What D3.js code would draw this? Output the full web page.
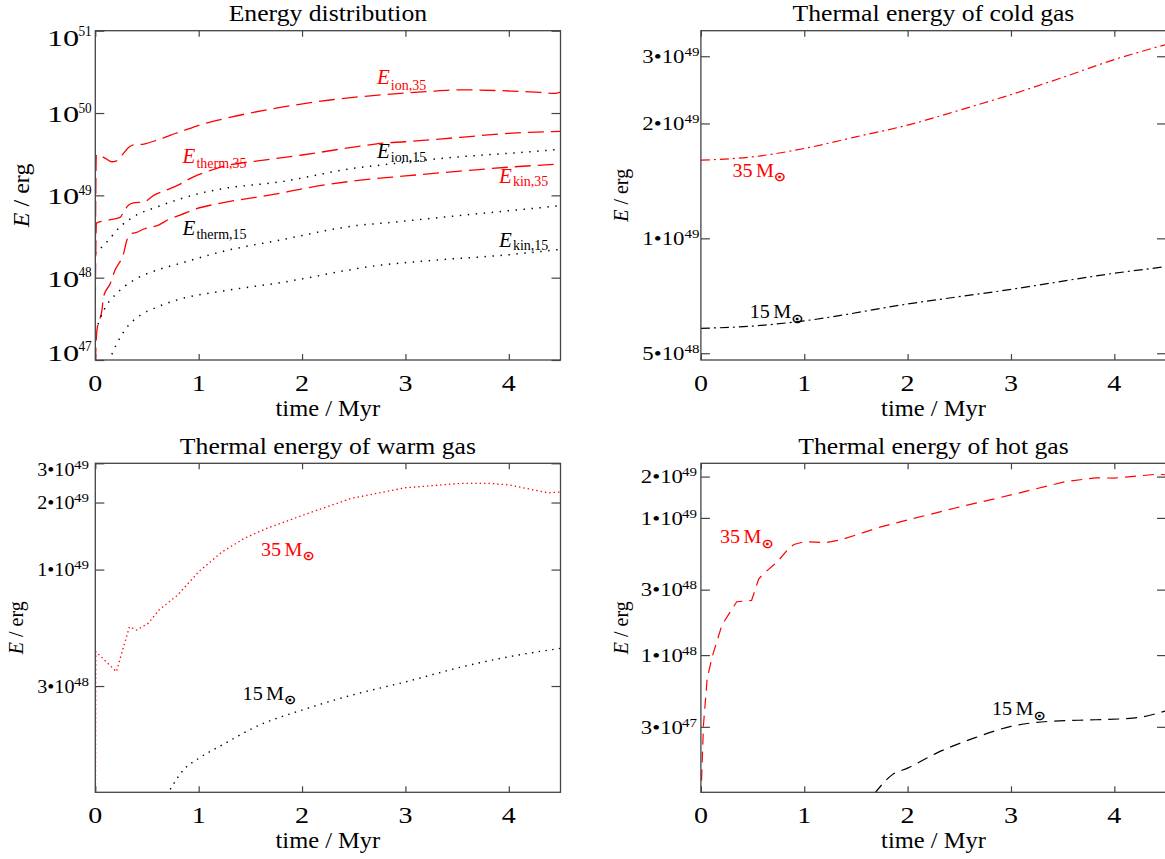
<!DOCTYPE html>
<html><head><meta charset="utf-8">
<script src="https://cdn.jsdelivr.net/npm/d3@7"></script>
<style>
html,body{margin:0;padding:0;background:#fff;}
svg{display:block;font-family:"Liberation Serif","Times New Roman",serif;}
</style></head><body>
<svg id="chart" width="1165" height="859"></svg>
<script>
// ---------------- data ----------------
const xTickValues = [0, 1, 2, 3, 4];
const titles = ["Energy distribution", "Thermal energy of cold gas", "Thermal energy of warm gas", "Thermal energy of hot gas"];
const yTicksEnergy = [1e47, 1e48, 1e49, 1e50, 1e51];
const yTicksCold = [5e48, 1e49, 2e49, 3e49];
const yTicksWarm = [3e48, 1e49, 2e49, 3e49];
const yTicksHot = [3e47, 1e48, 3e48, 1e49, 2e49];

// Panel 1: energy distribution (time in Myr, energy in erg)
const tIon35 = [0, 0.01, 0.08, 0.16, 0.2, 0.26, 0.33, 0.37, 0.47, 0.6, 0.73, 0.82, 1.0, 1.31, 1.79, 2.27, 2.66, 3.2, 3.53, 4.02, 4.3, 4.44, 4.5];
const eIon35 = [1.5e48, 3.1e49, 2.9e49, 2.56e49, 2.6e49, 3.1e49, 3.9e49, 4.1e49, 4.2e49, 4.7e49, 5.4e49, 5.9e49, 7.1e49, 8.9e49, 1.17e50, 1.44e50, 1.62e50, 1.82e50, 1.91e50, 1.85e50, 1.78e50, 1.73e50, 1.8e50];
const tTherm35 = [0, 0.01, 0.08, 0.24, 0.28, 0.32, 0.37, 0.47, 0.565, 0.69, 0.82, 0.95, 1.08, 1.21, 1.63, 2.0, 2.565, 2.76, 3.0, 3.53, 4.0, 4.5];
const eTherm35 = [5e47, 4.6e48, 4.9e48, 5.4e48, 6.5e48, 7.6e48, 8.1e48, 8.3e48, 1.0e49, 1.16e49, 1.37e49, 1.68e49, 1.94e49, 2.2e49, 2.68e49, 3.09e49, 3.97e49, 4.29e49, 4.48e49, 5.07e49, 5.66e49, 6.0e49];
const tKin35 = [0, 0.016, 0.065, 0.08, 0.145, 0.19, 0.274, 0.306, 0.355, 0.4, 0.47, 0.6, 0.73, 0.82, 0.98, 1.18, 1.79, 2.0, 2.565, 3.0, 3.53, 4.0, 4.5];
const eKin35 = [9e46, 2.3e47, 4.1e47, 5.9e47, 8.5e47, 1.23e48, 1.97e48, 2.87e48, 3.45e48, 3.55e48, 3.9e48, 4.3e48, 5.25e48, 5.76e48, 6.9e48, 7.9e48, 1.06e49, 1.2e49, 1.53e49, 1.72e49, 1.97e49, 2.2e49, 2.4e49];
const tIon15 = [0, 0.113, 0.241, 0.37, 0.6, 0.79, 1.016, 1.19, 1.79, 2.565, 2.76, 3.2, 3.53, 4.0, 4.5];
const eIon15 = [1.97e48, 2.73e48, 4.16e48, 5.5e48, 7.26e48, 8.8e48, 1.06e49, 1.18e49, 1.46e49, 2.19e49, 2.33e49, 2.69e49, 2.94e49, 3.24e49, 3.62e49];
const tTherm15 = [0, 0.081, 0.21, 0.37, 0.6, 0.82, 1.21, 1.79, 2.565, 2.76, 3.53, 4.0, 4.5];
const eTherm15 = [2.2e47, 4.0e47, 6.5e47, 9.3e47, 1.24e48, 1.49e48, 2.05e48, 2.87e48, 4.35e48, 4.57e48, 5.7e48, 6.5e48, 7.48e48];
const tKin15 = [0.13, 0.21, 0.306, 0.436, 0.6, 0.82, 1.21, 1.79, 2.76, 3.2, 4.0, 4.5];
const eKin15 = [9.5e46, 1.6e47, 2.5e47, 3.5e47, 4.4e47, 5.5e47, 6.8e47, 8.7e47, 1.42e48, 1.6e48, 1.9e48, 2.21e48];

// Panel 2: cold gas
const tCold35 = [0, 0.5, 1, 1.5, 2, 2.5, 3, 3.5, 4, 4.5];
const eCold35 = [1.603e49, 1.635e49, 1.72e49, 1.845e49, 1.98e49, 2.166e49, 2.38e49, 2.64e49, 2.94e49, 3.22e49];
const tCold15 = [0, 0.5, 1, 2, 3, 4, 4.5];
const eCold15 = [5.81e48, 5.89e48, 6.08e48, 6.73e48, 7.35e48, 8.10e48, 8.43e48];

// Panel 3: warm gas
const tWarm35 = [0, 0.005, 0.204, 0.33, 0.4, 0.51, 0.616, 0.796, 1.0, 1.226, 1.44, 1.656, 2.0, 2.48, 3.0, 3.55, 3.8, 4.0, 4.38, 4.5];
const eWarm35 = [5e47, 4.28e48, 3.48e48, 5.54e48, 5.35e48, 5.73e48, 6.58e48, 7.68e48, 9.78e48, 1.2e49, 1.38e49, 1.53e49, 1.75e49, 2.09e49, 2.33e49, 2.44e49, 2.44e49, 2.40e49, 2.21e49, 2.23e49];
const tWarm15 = [0.69, 0.867, 1.0, 1.226, 1.584, 2.0, 2.48, 3.0, 3.55, 4.0, 4.5];
const eWarm15 = [9.7e47, 1.28e48, 1.42e48, 1.63e48, 2.0e48, 2.34e48, 2.73e48, 3.13e48, 3.66e48, 4.06e48, 4.43e48];

// Panel 4: hot gas
const tHot35 = [0, 0.025, 0.061, 0.114, 0.204, 0.347, 0.49, 0.56, 0.62, 0.741, 0.85, 0.9, 1.0, 1.2, 1.35, 1.74, 2.0, 2.46, 3.0, 3.53, 3.82, 4.0, 4.41, 4.5];
const eHot35 = [9e46, 3.1e47, 6.8e47, 1.0e48, 1.66e48, 2.45e48, 2.5e48, 3.6e48, 4.0e48, 4.8e48, 6.0e48, 6.4e48, 6.71e48, 6.6e48, 6.9e48, 8.6e48, 9.66e48, 1.18e49, 1.47e49, 1.84e49, 1.96e49, 1.95e49, 2.08e49, 2.06e49];
const tHot15 = [1.68, 1.85, 2.0, 2.28, 2.64, 3.0, 3.35, 3.82, 4.18, 4.5];
const eHot15 = [9.8e46, 1.34e47, 1.5e47, 1.93e47, 2.48e47, 3.02e47, 3.28e47, 3.38e47, 3.47e47, 3.93e47];

// ---------------- layout / styles ----------------
const RED = "#ff0000", BLK = "#000000", FRAME = "#444";
const colL = [95.3, 560.5], colR = [700.9, 1166];
const rowT = [30.7, 360], rowB = [463.3, 792.3];
const smooth = d3.curveMonotoneX, sharp = d3.curveLinear;

const panels = [
  { id: "p1", xr: colL, yr: rowT, dom: [1e47, 1e51], ticks: yTicksEnergy, title: titles[0], style: "pow",
    ylab: { x: 28.5, size: 24 }, labEnd: 91.7, supW: 12.4,
    series: [
      { t: tIon35, v: eIon35, c: RED, dash: "16,7", w: 1.3, curve: smooth },
      { t: tTherm35, v: eTherm35, c: RED, dash: "16,7", w: 1.3, curve: smooth },
      { t: tKin35, v: eKin35, c: RED, dash: "16,7", w: 1.3, curve: smooth },
      { t: tIon15, v: eIon15, c: BLK, dash: "1.4,6.6", w: 1.5, curve: smooth },
      { t: tTherm15, v: eTherm15, c: BLK, dash: "1.4,6.6", w: 1.5, curve: smooth },
      { t: tKin15, v: eKin15, c: BLK, dash: "1.4,6.6", w: 1.5, curve: smooth }
    ],
    elabels: [
      { t: 2.725, v: 2.25e50, sub: "ion,35", c: RED, dy: 6 },
      { t: 2.725, v: 2.87e49, sub: "ion,15", c: BLK, dy: 4 },
      { t: 3.906, v: 1.40e49, sub: "kin,35", c: RED, dy: 3 },
      { t: 3.906, v: 2.38e48, sub: "kin,15", c: BLK, dy: 3.5 },
      { t: 0.844, v: 2.45e49, sub: "therm,35", c: RED, dy: 5 },
      { t: 0.844, v: 3.3e48, sub: "therm,15", c: BLK, dy: 4.5 }
    ], mlabels: [] },
  { id: "p2", xr: colR, yr: rowT, dom: [4.8e48, 3.5e49], ticks: yTicksCold, title: titles[1], style: "mant",
    ylab: { x: 628, size: 20 }, labEnd: 699.5, supW: 15, mainSize: 19, mainSx: 1.2,
    series: [
      { t: tCold35, v: eCold35, c: RED, dash: "9,4,2,4", w: 1.2, curve: smooth },
      { t: tCold15, v: eCold15, c: BLK, dash: "9,4,2,4", w: 1.2, curve: smooth }
    ], elabels: [],
    mlabels: [ { t: 0.305, v: 1.45e49, txt: "35", c: RED }, { t: 0.473, v: 6.17e48, txt: "15", c: BLK } ] },
  { id: "p3", xr: colL, yr: rowB, dom: [1e48, 3e49], ticks: yTicksWarm, title: titles[2], style: "mant",
    ylab: { x: 22.5, size: 20 }, labEnd: 89, supW: 14.5, mainSize: 18, mainSx: 1.12,
    series: [
      { t: tWarm35, v: eWarm35, c: RED, dash: "1.4,3", w: 1.3, curve: sharp },
      { t: tWarm15, v: eWarm15, c: BLK, dash: "1.4,5.4", w: 1.4, curve: smooth }
    ], elabels: [],
    mlabels: [ { t: 1.603, v: 1.156e49, txt: "35", c: RED }, { t: 1.425, v: 2.6e48, txt: "15", c: BLK } ] },
  { id: "p4", xr: colR, yr: rowB, dom: [1e47, 2.5e49], ticks: yTicksHot, title: titles[3], style: "mant",
    ylab: { x: 628, size: 20 }, labEnd: 697, supW: 14, mainSize: 19, mainSx: 1.2,
    series: [
      { t: tHot35, v: eHot35, c: RED, dash: "11,7", w: 1.2, curve: sharp },
      { t: tHot15, v: eHot15, c: BLK, dash: "11,7", w: 1.2, curve: smooth }
    ], elabels: [],
    mlabels: [ { t: 0.185, v: 6.51e48, txt: "35", c: RED }, { t: 2.816, v: 3.64e47, txt: "15", c: BLK } ] }
];

// ---------------- drawing ----------------
const svg = d3.select("#chart");
const defs = svg.append("defs");

function drawPanel(p) {
  const [L, R] = p.xr, [T, B] = p.yr;
  const x = d3.scaleLinear().domain([0, 4.5]).range([L, R]);
  const y = d3.scaleLog().domain(p.dom).range([B, T]);
  const g = svg.append("g");

  defs.append("clipPath").attr("id", "clip-" + p.id)
    .append("rect").attr("x", L).attr("y", T).attr("width", R - L).attr("height", B - T);

  // curves
  const plot = g.append("g").attr("clip-path", `url(#clip-${p.id})`);
  p.series.forEach(s => {
    const line = d3.line().x((d, i) => x(s.t[i])).y(d => y(d)).curve(s.curve);
    plot.append("path").attr("d", line(s.v)).attr("fill", "none")
      .attr("stroke", s.c).attr("stroke-width", s.w).attr("stroke-dasharray", s.dash);
  });

  // ticks on all four sides (inward)
  const styleAxis = sel => {
    sel.select(".domain").remove();
    sel.selectAll("text").remove();
    sel.selectAll("line").attr("stroke", FRAME).attr("stroke-width", 1.2);
  };
  g.append("g").attr("transform", `translate(0,${B})`)
    .call(d3.axisBottom(x).tickValues(xTickValues).tickSizeInner(-6).tickSizeOuter(0)).call(styleAxis);
  g.append("g").attr("transform", `translate(0,${T})`)
    .call(d3.axisTop(x).tickValues(xTickValues).tickSizeInner(-6).tickSizeOuter(0)).call(styleAxis);
  g.append("g").attr("transform", `translate(${L},0)`)
    .call(d3.axisLeft(y).tickValues(p.ticks).tickSizeInner(-9).tickSizeOuter(0)).call(styleAxis);
  g.append("g").attr("transform", `translate(${R},0)`)
    .call(d3.axisRight(y).tickValues(p.ticks).tickSizeInner(-9).tickSizeOuter(0)).call(styleAxis);

  // frame
  g.append("rect").attr("x", L).attr("y", T).attr("width", R - L).attr("height", B - T)
    .attr("fill", "none").attr("stroke", FRAME).attr("stroke-width", 1.3);

  // x tick labels
  xTickValues.forEach(v => {
    g.append("text").attr("transform", `translate(${x(v)},${B + 30.7}) scale(1.22,1)`)
      .attr("text-anchor", "middle").attr("font-size", 23).attr("fill", "#000").text(v);
  });

  // y tick labels
  p.ticks.forEach(v => {
    const e = Math.floor(Math.log10(v) + 1e-9);
    const m = Math.round(v / Math.pow(10, e));
    const ty = y(v);
    let base, mainTxt, mainSize, mainSx, supSize, supSx, supDy;
    if (p.style === "pow") {
      base = Math.min(Math.max(ty + 9, T + 15), B + 0.7);
      mainTxt = "10"; mainSize = 24; mainSx = 1.35; supSize = 14; supSx = 0.95; supDy = -9.5;
    } else {
      base = Math.max(ty + 6.8, T + 12.4);
      mainTxt = m + "\u202210"; mainSize = p.mainSize; mainSx = p.mainSx; supSize = 13; supSx = 1.15; supDy = -7;
    }
    g.append("text").attr("transform", `translate(${p.labEnd - p.supW},${base}) scale(${mainSx},1)`)
      .attr("text-anchor", "end").attr("font-size", mainSize).attr("fill", "#000").text(mainTxt);
    g.append("text").attr("transform", `translate(${p.labEnd},${base + supDy}) scale(${supSx},1)`)
      .attr("text-anchor", "end").attr("font-size", supSize).attr("fill", "#000").text(e);
  });

  // title
  g.append("text").attr("transform", `translate(${(L + R) / 2},${T - 9.7}) scale(1.07,1)`)
    .attr("text-anchor", "middle").attr("font-size", 24).attr("fill", "#000").text(p.title);

  // x axis label
  g.append("text").attr("transform", `translate(${(L + R) / 2},${B + 56}) scale(1.02,1)`)
    .attr("text-anchor", "middle").attr("font-size", 24).attr("fill", "#000").text("time / Myr");

  // y axis label
  const yl = g.append("text").attr("transform", `translate(${p.ylab.x},${(T + B) / 2}) rotate(-90)`)
    .attr("text-anchor", "middle").attr("font-size", p.ylab.size).attr("fill", "#000");
  yl.append("tspan").attr("font-style", "italic").text("E");
  yl.append("tspan").text(" / erg");

  // energy component labels (panel 1)
  p.elabels.forEach(l => {
    const t = g.append("text").attr("x", x(l.t)).attr("y", y(l.v)).attr("fill", l.c).attr("font-size", 21);
    t.append("tspan").attr("font-style", "italic").text("E");
    t.append("tspan").attr("font-size", 14).attr("dy", l.dy).attr("dx", 1).text(l.sub);
  });

  // mass labels
  p.mlabels.forEach(l => {
    const t = g.append("text").attr("transform", `translate(${x(l.t)},${y(l.v)}) scale(1.12,1)`)
      .attr("fill", l.c).attr("font-size", 18);
    t.append("tspan").text(l.txt);
    t.append("tspan").attr("dx", 3).text("M");
    t.append("tspan").attr("font-family", "DejaVu Sans").attr("font-weight", "bold")
      .attr("font-size", 13).attr("dy", 4.5).text("\u2299");
  });
}

panels.forEach(drawPanel);
</script>
</body></html>
